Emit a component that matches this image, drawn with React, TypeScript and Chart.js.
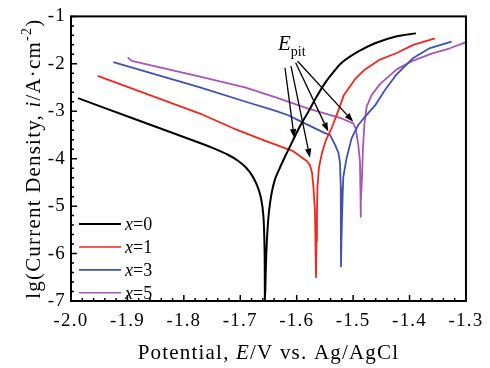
import { useEffect, useRef } from 'react';
import { Chart, registerables } from 'chart.js';

Chart.register(...registerables);

// ---------- data ----------
const seriesNames = ['0', '1', '3', '5'];
const seriesColors = ['#000000', '#f5261b', '#3f51b5', '#a855b8'];

const potentialX0 = [-1.9876, -1.8896, -1.7714, -1.7448, -1.7218, -1.7041, -1.6899, -1.6792, -1.6704, -1.6633, -1.6589, -1.6569, -1.6562, -1.6544, -1.6521, -1.6491, -1.6447, -1.6385, -1.6296, -1.6208, -1.6089, -1.5942, -1.5795, -1.5658, -1.5499, -1.5339, -1.5198, -1.4914, -1.4613, -1.4241, -1.3886];
const logIX0 = [-2.724, -3.152, -3.669, -3.793, -3.917, -4.042, -4.186, -4.352, -4.559, -4.828, -5.221, -5.945, -7.0, -6.193, -5.573, -5.118, -4.745, -4.435, -4.186, -3.959, -3.669, -3.317, -3.013, -2.717, -2.407, -2.159, -1.972, -1.745, -1.565, -1.424, -1.358];

const potentialX1 = [-1.9527, -1.7714, -1.7124, -1.6532, -1.6061, -1.5823, -1.5765, -1.5729, -1.5703, -1.5676, -1.5667, -1.5658, -1.565, -1.5641, -1.5632, -1.5605, -1.5552, -1.5481, -1.5375, -1.5269, -1.5162, -1.4967, -1.479, -1.4524, -1.4228, -1.3934, -1.355];
const logIX1 = [-2.252, -3.048, -3.359, -3.634, -3.841, -4.048, -4.135, -4.29, -4.6, -5.118, -5.738, -6.498, -5.738, -5.118, -4.6, -4.186, -3.876, -3.607, -3.338, -3.007, -2.655, -2.324, -2.117, -1.91, -1.772, -1.6, -1.461];

const potentialX3 = [-1.925, -1.7714, -1.6917, -1.6385, -1.6149, -1.5912, -1.5499, -1.541, -1.5322, -1.526, -1.5233, -1.5219, -1.5215, -1.5207, -1.5189, -1.5175, -1.5114, -1.5026, -1.4909, -1.4772, -1.4613, -1.4436, -1.4228, -1.3934, -1.3638, -1.3254];
const logIX3 = [-1.966, -2.496, -2.794, -2.985, -3.084, -3.224, -3.462, -3.497, -3.704, -3.876, -4.083, -4.6, -6.27, -5.738, -4.911, -4.393, -3.979, -3.566, -3.29, -3.09, -2.883, -2.552, -2.221, -1.875, -1.668, -1.532];

const potentialX5 = [-1.8995, -1.8924, -1.7714, -1.6917, -1.6385, -1.5795, -1.5203, -1.4997, -1.4955, -1.4909, -1.4879, -1.487, -1.4866, -1.4861, -1.4843, -1.4825, -1.4799, -1.476, -1.4671, -1.4524, -1.4228, -1.3934, -1.3608, -1.3284, -1.3];
const logIX5 = [-1.863, -1.937, -2.268, -2.496, -2.703, -2.945, -3.152, -3.255, -3.359, -3.704, -4.048, -4.704, -5.221, -4.911, -4.393, -3.773, -3.255, -2.904, -2.655, -2.428, -2.117, -1.931, -1.786, -1.672, -1.544];

const xMin = -2.0, xMax = -1.3, xStep = 0.1;
const yMin = -7, yMax = -1, yStep = 1;

// E_pit arrows (data units)
const arrowFromV = [-1.6208, -1.6101, -1.6018, -1.5983];
const arrowFromLg = [-2.082, -2.049, -1.979, -1.946];
const arrowToV = [-1.6043, -1.5765, -1.544, -1.4997];
const arrowToLg = [-3.566, -3.98, -3.427, -3.22];
const epitLabelV = -1.6332;
const epitLabelLg = -1.7;

const FONT = '"Liberation Serif", "Times New Roman", serif';

type Run = { t: string; it?: boolean; size: number; dy?: number };

function runsWidth(ctx: CanvasRenderingContext2D, runs: Run[]) {
  let w = 0;
  for (const r of runs) {
    ctx.font = `${r.it ? 'italic ' : ''}${r.size}px ${FONT}`;
    w += ctx.measureText(r.t).width;
  }
  return w;
}
function drawRuns(ctx: CanvasRenderingContext2D, runs: Run[], x: number, y: number, align: 'left' | 'center') {
  ctx.textAlign = 'left';
  ctx.textBaseline = 'alphabetic';
  let cx = align === 'center' ? x - runsWidth(ctx, runs) / 2 : x;
  for (const r of runs) {
    ctx.font = `${r.it ? 'italic ' : ''}${r.size}px ${FONT}`;
    ctx.fillText(r.t, cx, y + (r.dy || 0));
    cx += ctx.measureText(r.t).width;
  }
}

const decorPlugin = {
  id: 'decor',
  beforeDraw(chart: any) {
    (chart.ctx as any).letterSpacing = '1.2px';
  },
  afterDatasetsDraw(chart: any) {
    const { ctx, scales } = chart;
    const xs = scales.x, ys = scales.y;
    ctx.save();
    ctx.strokeStyle = '#000';
    ctx.fillStyle = '#000';
    ctx.lineWidth = 1.3;
    for (let i = 0; i < arrowFromV.length; i++) {
      const x1 = xs.getPixelForValue(arrowFromV[i]);
      const y1 = ys.getPixelForValue(arrowFromLg[i]);
      const x2 = xs.getPixelForValue(arrowToV[i]);
      const y2 = ys.getPixelForValue(arrowToLg[i]);
      const ang = Math.atan2(y2 - y1, x2 - x1);
      const hl = 9, hw = 3.2;
      const bx = x2 - hl * Math.cos(ang), by = y2 - hl * Math.sin(ang);
      ctx.beginPath();
      ctx.moveTo(x1, y1);
      ctx.lineTo(bx, by);
      ctx.stroke();
      ctx.beginPath();
      ctx.moveTo(x2, y2);
      ctx.lineTo(bx + hw * Math.sin(ang), by - hw * Math.cos(ang));
      ctx.lineTo(bx - hw * Math.sin(ang), by + hw * Math.cos(ang));
      ctx.closePath();
      ctx.fill();
    }
    (ctx as any).letterSpacing = '0px';
    const ex = xs.getPixelForValue(epitLabelV);
    const ey = ys.getPixelForValue(epitLabelLg);
    drawRuns(ctx, [{ t: 'E', it: true, size: 21 }, { t: 'pit', size: 14, dy: 6 }], ex, ey, 'left');
    ctx.restore();
  },
  afterDraw(chart: any) {
    const { ctx, chartArea: a, scales } = chart;
    const xs = scales.x, ys = scales.y;
    ctx.save();
    (ctx as any).letterSpacing = '0px';
    ctx.strokeStyle = '#000';
    ctx.lineWidth = 2;
    ctx.strokeRect(a.left, a.top, a.right - a.left, a.bottom - a.top);
    ctx.lineWidth = 1.5;
    ctx.beginPath();
    const xt = xs.ticks.map((t: any) => t.value);
    for (let i = 0; i < xt.length; i++) {
      const p = xs.getPixelForValue(xt[i]);
      ctx.moveTo(p, a.bottom);
      ctx.lineTo(p, a.bottom - 6);
      if (i < xt.length - 1) {
        for (let k = 1; k < 5; k++) {
          const q = xs.getPixelForValue(xt[i] + ((xt[i + 1] - xt[i]) * k) / 5);
          ctx.moveTo(q, a.bottom);
          ctx.lineTo(q, a.bottom - 3);
        }
      }
    }
    const yt = ys.ticks.map((t: any) => t.value);
    for (let i = 0; i < yt.length; i++) {
      const p = ys.getPixelForValue(yt[i]);
      ctx.moveTo(a.left, p);
      ctx.lineTo(a.left + 6, p);
      if (i < yt.length - 1) {
        for (let k = 1; k < 5; k++) {
          const q = ys.getPixelForValue(yt[i] + ((yt[i + 1] - yt[i]) * k) / 5);
          ctx.moveTo(a.left, q);
          ctx.lineTo(a.left + 3, q);
        }
      }
    }
    ctx.stroke();

    // legend
    ctx.fillStyle = '#000';
    for (let i = 0; i < seriesNames.length; i++) {
      const ly = a.top + 207.7 + i * 22.9;
      ctx.strokeStyle = seriesColors[i];
      ctx.lineWidth = i === 0 ? 2 : 1.6;
      ctx.beginPath();
      ctx.moveTo(a.left + 8, ly);
      ctx.lineTo(a.left + 50, ly);
      ctx.stroke();
      drawRuns(ctx, [{ t: 'x', it: true, size: 18 }, { t: '=' + seriesNames[i], size: 18 }], a.left + 54, ly + 6, 'left');
    }

    // axis titles
    (ctx as any).letterSpacing = '1.2px';
    drawRuns(ctx, [{ t: 'Potential, ', size: 21 }, { t: 'E', it: true, size: 21 }, { t: '/V vs. Ag/AgCl', size: 21 }], (a.left + a.right) / 2, 359, 'center');
    ctx.translate(40, (a.top + a.bottom) / 2);
    ctx.rotate(-Math.PI / 2);
    drawRuns(ctx, [
      { t: 'lg(Current Density, ', size: 21 },
      { t: 'i', it: true, size: 21 },
      { t: '/A\u00B7cm', size: 21 },
      { t: '-2', size: 14, dy: -9 },
      { t: ')', size: 21 },
    ], 0, 0, 'center');
    ctx.restore();
  },
};

function toPoints(xs: number[], ys: number[]) {
  return xs.map((x, i) => ({ x, y: ys[i] }));
}

export default function App() {
  const ref = useRef<HTMLCanvasElement | null>(null);
  useEffect(() => {
    document.body.style.margin = '0';
    const canvas = ref.current!;
    const seriesX = [potentialX0, potentialX1, potentialX3, potentialX5];
    const seriesY = [logIX0, logIX1, logIX3, logIX5];
    const chart = new Chart(canvas, {
      type: 'scatter',
      data: {
        datasets: seriesNames.map((n, i) => ({
          label: 'x=' + n,
          data: toPoints(seriesX[i], seriesY[i]),
          showLine: true,
          borderColor: seriesColors[i],
          backgroundColor: seriesColors[i],
          borderWidth: i === 0 ? 2 : 1.8,
          borderJoinStyle: 'round' as const,
          pointRadius: 0,
          pointHoverRadius: 0,
          tension: i === 0 ? 0.3 : 0,
        })),
      },
      options: {
        responsive: false,
        animation: false,
        events: [],
        layout: { padding: { left: 0, top: 11, right: 24, bottom: 0 } },
        plugins: { legend: { display: false }, tooltip: { enabled: false } },
        scales: {
          x: {
            type: 'linear',
            min: xMin,
            max: xMax,
            grid: { display: false, drawTicks: false },
            border: { display: false },
            afterFit: (s: any) => { s.height = 67; },
            ticks: {
              stepSize: xStep,
              autoSkip: false,
              maxRotation: 0,
              padding: 9,
              color: '#000',
              font: { family: FONT, size: 19 },
              callback: (v: any) => Number(v).toFixed(1),
            },
          },
          y: {
            type: 'linear',
            min: yMin,
            max: yMax,
            grid: { display: false, drawTicks: false },
            border: { display: false },
            afterFit: (s: any) => { s.width = 71; },
            ticks: {
              stepSize: yStep,
              padding: 5,
              color: '#000',
              font: { family: FONT, size: 19 },
              callback: (v: any) => String(Math.round(Number(v))),
            },
          },
        },
      },
      plugins: [decorPlugin],
    });
    return () => chart.destroy();
  }, []);
  return (
    <div style={{ width: 490, height: 368 }}>
      <canvas ref={ref} width={490} height={368} style={{ display: 'block' }} />
    </div>
  );
}
